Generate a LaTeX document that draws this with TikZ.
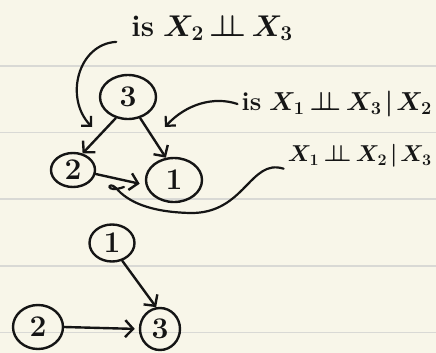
\RequirePackage{fix-cm}
\documentclass[tikz,border=0pt]{standalone}
\usepackage{amsmath}
\usepackage{xcolor}
\usepackage{tikz}
\usetikzlibrary{arrows.meta,shapes.geometric,calc}
\definecolor{paper}{HTML}{F8F6E9}
\definecolor{rulegray}{HTML}{D9D9D5}
\definecolor{ink}{HTML}{151515}
\newcommand{\indep}{\mkern3mu\mathord{\perp\!\!\!\perp}\mkern3mu}
\newcommand{\given}{\mkern2mu|\mkern2mu}

\begin{document}
\begin{tikzpicture}[x=1pt, y=-1pt,
  every node/.style={text=ink},
  var/.style={draw=ink, ellipse, line width=2.4pt, inner sep=0pt, font=\fontsize{30}{30}\bfseries},
  question/.style={inner sep=1pt},
  edge/.style={draw=ink, line width=2.4pt, line cap=round, -{Straight Barb[length=8pt,width=17pt]}},
  note/.style={draw=ink, line width=2.2pt, line cap=round, -{Straight Barb[length=7pt,width=14pt]}},
  pointer/.style={draw=ink, line width=2.2pt, line cap=round}
]
% ---- paper ----
\useasboundingbox (0,0) rectangle (436,353);
\fill[paper] (0,0) rectangle (436,353);
\foreach \y in {66,132.5,199,266,332.3}
  \draw[rulegray, line width=1.4pt] (0,\y) -- (436,\y);
% ---- top graph: 3 -> 2, 3 -> 1, 2 -> 1 ----
\begin{scope}
  \node[var, minimum width=56pt, minimum height=44pt] (a3) at (128,97) {3};
  \node[var, minimum width=44pt, minimum height=34pt] (a2) at (73,170) {2};
  \node[var, minimum width=56pt, minimum height=44pt] (a1) at (174,180) {1};
  \draw[edge] (a3.240) -- (a2.60);
  \draw[edge] (a3.300) -- (a1.110);
  \draw[edge, shorten >=6pt] (a2.350) -- (a1.190);
\end{scope}
% ---- questions ----
\node[question, font=\fontsize{30}{32}\selectfont\boldmath] (t23) at (212,28) {\textbf{is} $X_2\indep X_3$};
\node[question, font=\fontsize{26}{28}\selectfont\boldmath, anchor=east] (t13) at (433,104) {\textbf{is} $X_1\indep X_3\given X_2$};
\node[question, font=\fontsize{23}{25}\selectfont\boldmath, anchor=east] (t12) at (433,156) {$X_1\indep X_2\given X_3$};
\coordinate (p32) at (92,127);
\coordinate (p31) at (165,127);
\coordinate (p21) at (116,188);
\draw[note] ([xshift=-14pt]t23.south west) .. controls (78,44) and (64,98) .. (p32);
\draw[note] ([xshift=-3pt]t13.west) .. controls (214,96) and (186,104) .. (p31);
\draw[pointer] ([xshift=-3pt]t12.south west) .. controls (250,158) and (245,214) .. (190,213)
  .. controls (150,212) and (128,202) .. (p21)
  .. controls (108,180) and (104,194) .. (124,187);
% ---- bottom graph: 1 -> 3 <- 2 ----
\begin{scope}
  \node[var, minimum width=45pt, minimum height=37pt] (b1) at (112,243) {1};
  \node[var, minimum width=50pt, minimum height=44pt] (b2) at (38,327) {2};
  \node[var, minimum width=40pt, minimum height=42pt] (b3) at (160,329) {3};
  \draw[edge] (b1.300) -- (b3.100);
  \draw[edge, shorten >=4pt] (b2.east) -- (b3.west);
\end{scope}
\end{tikzpicture}
\end{document}
